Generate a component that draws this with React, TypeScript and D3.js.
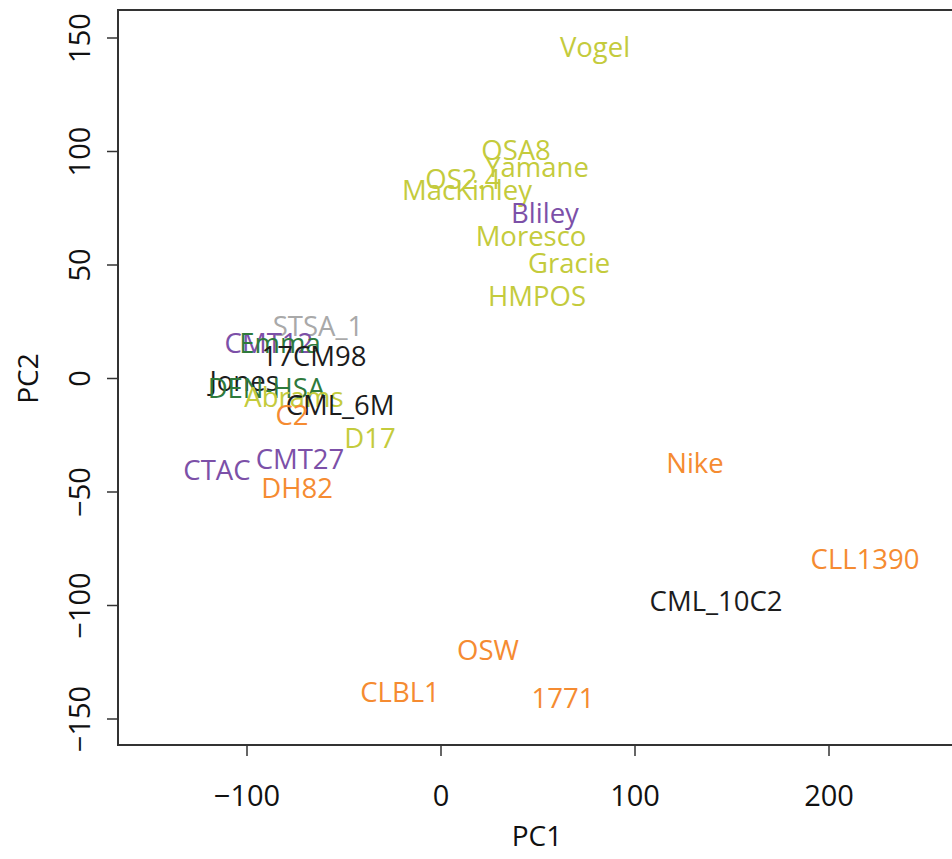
import React from "react";
import * as d3 from "d3";

const labels = ["Vogel","OSA8","Yamane","OS2.4","MacKinley","Bliley","Moresco","Gracie","HMPOS","STSA_1","CMT12","Emma","17CM98","Jones","DEN-HSA","Abrams","CML_6M","C2","D17","CTAC","CMT27","DH82","Nike","CLL1390","CML_10C2","OSW","CLBL1","1771"];
const pc1 = [79.4,38.7,49.5,11.3,13.4,53.6,46.4,66,49.5,-63.4,-88.7,-83,-65.5,-101.5,-90,-75.8,-52,-76.8,-36.6,-115.5,-72.7,-74.2,130.9,218.6,141.8,24.2,-21.1,62.9];
const pc2 = [145.8,100.4,93,87.7,82.8,72.7,62.6,50.7,36.1,22.9,15.4,15.4,9.7,-1.3,-4.2,-8.4,-11.5,-16.3,-26.4,-40.5,-35.7,-48.5,-37.4,-79.7,-98.2,-119.8,-138.3,-141];
const groups = ["osa","osa","osa","osa","osa","mam","osa","osa","osa","sts","mam","hsa","oth","oth","hsa","osa","oth","lym","osa","mam","mam","lym","lym","lym","oth","lym","lym","lym"];
const xTicks = [-100, 0, 100, 200];
const yTicks = [-150, -100, -50, 0, 50, 100, 150];

const colorMap: Record<string, string> = {
  osa: "#c4cb3c",
  mam: "#7c50a8",
  sts: "#a9a9a9",
  hsa: "#2e7a3c",
  oth: "#1c1c1c",
  lym: "#f58b31",
};

export default function App() {
  const x = d3.scaleLinear().domain([-100, 200]).range([247, 829]);
  const y = d3.scaleLinear().domain([-150, 150]).range([719, 38]);
  const left = 118, top = 10, bottom = 745, right = 960;
  const font = "'Open Sans', sans-serif";
  return (
    <svg width={952} height={859} style={{ position: "absolute", left: 0, top: 0, background: "#fff" }} fontFamily={font}>
      <rect x={0} y={0} width={952} height={859} fill="#fff" />
      {labels.map((l, i) => (
        <text key={l} x={x(pc1[i])} y={y(pc2[i])} dy="0.36em" textAnchor="middle" fontSize={27.5} fill={colorMap[groups[i]]}>{l}</text>
      ))}
      <path d={`M${right},${top}H${left}V${bottom}H${right}`} fill="none" stroke="#333" strokeWidth={2} />
      {xTicks.map((t) => (
        <g key={t}>
          <line x1={x(t)} x2={x(t)} y1={bottom} y2={bottom + 11} stroke="#333" strokeWidth={1.5} />
          <text x={x(t)} y={796} dy="0.36em" textAnchor="middle" fontSize={29} fill="#111">{t < 0 ? "\u2212" + Math.abs(t) : t}</text>
        </g>
      ))}
      {yTicks.map((t) => (
        <g key={t}>
          <line x1={left} x2={left - 11} y1={y(t)} y2={y(t)} stroke="#333" strokeWidth={1.5} />
          <text transform={`translate(80,${y(t)}) rotate(-90)`} dy="0.36em" textAnchor="middle" fontSize={29} fill="#111">{t < 0 ? "\u2212" + Math.abs(t) : t}</text>
        </g>
      ))}
      <text x={x(0) + 96} y={836} dy="0.36em" textAnchor="middle" fontSize={28} fill="#111">PC1</text>
      <text transform={`translate(28,${y(0)}) rotate(-90)`} dy="0.36em" textAnchor="middle" fontSize={28} fill="#111">PC2</text>
    </svg>
  );
}
